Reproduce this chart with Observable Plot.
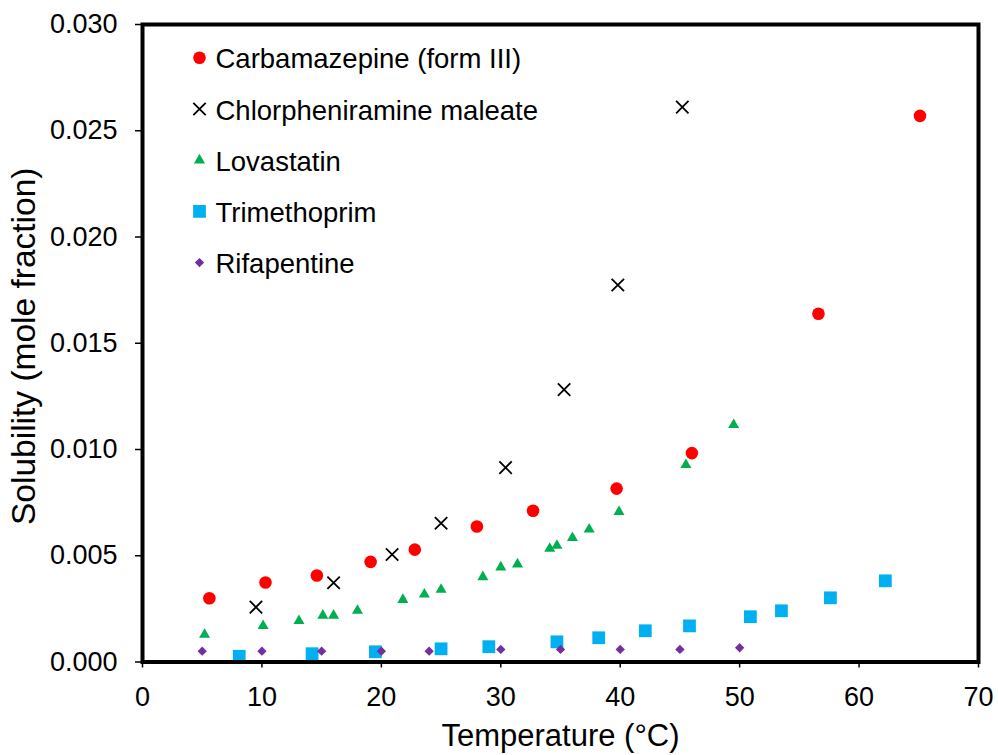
<!DOCTYPE html>
<html><head><meta charset="utf-8">
<script src="https://cdn.jsdelivr.net/npm/d3@7"></script>
<script src="https://cdn.jsdelivr.net/npm/@observablehq/plot@0.6"></script>
<style>body{margin:0;background:#fff} #chart svg{display:block}</style>
</head><body><div id="chart"></div>
<script>
// ---- data ----
const seriesNames = ["Carbamazepine (form III)", "Chlorpheniramine maleate", "Lovastatin", "Trimethoprim", "Rifapentine"];

const carbT = [5.6, 10.3, 14.6, 19.1, 22.8, 28.0, 32.7, 39.7, 46.0, 56.6, 65.1];
const carbS = [0.0030, 0.00374, 0.00407, 0.00471, 0.00529, 0.00638, 0.00712, 0.00816, 0.00983, 0.01639, 0.02570];

const chlorT = [9.5, 16.0, 20.9, 25.0, 30.4, 35.3, 39.8, 45.2];
const chlorS = [0.00258, 0.00373, 0.00506, 0.00653, 0.00915, 0.01282, 0.01774, 0.02611];

const lovaT = [5.2, 10.1, 13.1, 15.1, 16.0, 18.0, 21.8, 23.6, 25.0, 28.5, 30.0, 31.4, 34.1, 34.7, 36.0, 37.4, 39.9, 45.5, 49.5];
const lovaS = [0.00129, 0.00170, 0.00194, 0.00219, 0.00219, 0.00242, 0.00293, 0.00318, 0.00341, 0.00400, 0.00446, 0.00460, 0.00534, 0.00548, 0.00584, 0.00624, 0.00707, 0.00928, 0.01116];

const trimT = [8.1, 14.2, 19.5, 25.0, 29.0, 34.7, 38.2, 42.1, 45.8, 50.9, 53.5, 57.6, 62.2];
const trimS = [0.00027, 0.00039, 0.00048, 0.00062, 0.00072, 0.00095, 0.00114, 0.00147, 0.00170, 0.00213, 0.00241, 0.00302, 0.00382];

const rifaT = [5, 10, 15, 20, 24, 30, 35, 40, 45, 50];
const rifaS = [0.00051, 0.00051, 0.00051, 0.00051, 0.00051, 0.00059, 0.00059, 0.00059, 0.00059, 0.00067];

const xTicks = [0, 10, 20, 30, 40, 50, 60, 70];
const yTicks = [0, 0.005, 0.010, 0.015, 0.020, 0.025, 0.030];

const xTitle = "Temperature (°C)";
const yTitle = "Solubility (mole fraction)";

// ---- build ----
const seriesData = [
  carbT.map((t, i) => ({T: t, S: carbS[i]})),
  chlorT.map((t, i) => ({T: t, S: chlorS[i]})),
  lovaT.map((t, i) => ({T: t, S: lovaS[i]})),
  trimT.map((t, i) => ({T: t, S: trimS[i]})),
  rifaT.map((t, i) => ({T: t, S: rifaS[i]}))
];

const styles = [
  {symbol: "circle", fill: "#FF0000", stroke: "none", r: 6.3},
  {symbol: "times", fill: "none", stroke: "#000000", strokeWidth: 1.8, r: 5.7},
  {symbol: "triangle", fill: "#00B050", stroke: "none", r: 4.1},
  {symbol: "square", fill: "#00B0F0", stroke: "none", r: 7.2},
  {symbol: "diamond2", fill: "#7030A0", stroke: "none", r: 4.2}
];

const font = "'Liberation Sans', Arial, sans-serif";

const dataMarks = seriesData.map((data, i) =>
  Plot.dot(data, {x: "T", y: "S", ...styles[i]})
);

const legendMarks = seriesNames.flatMap((name, i) => [
  Plot.dot([name], {frameAnchor: "top-left", dx: 57, dy: 33.3 + 51.2 * i, ...styles[i]}),
  Plot.text([name], {frameAnchor: "top-left", dx: 73, dy: 33.3 + 51.2 * i + 10.5, text: d => d,
    textAnchor: "start", lineAnchor: "bottom", fontSize: 27.5, fill: "black"})
]);

const chart = Plot.plot({
  width: 998,
  height: 755,
  marginLeft: 142,
  marginRight: 20,
  marginTop: 24,
  marginBottom: 93.5,
  style: {fontFamily: font, fontSize: "27px", color: "black", background: "white"},
  x: {domain: [0, 70]},
  y: {domain: [0, 0.03]},
  marks: [
    ...dataMarks,
    Plot.frame({stroke: "black", strokeWidth: 4}),
    Plot.axisX({ticks: xTicks, tickSize: 6, tickPadding: 19, label: null, fontSize: 27, strokeWidth: 1.5, tickFormat: d => String(d)}),
    Plot.axisY({ticks: yTicks, tickSize: 7, tickPadding: 18, label: null, fontSize: 27, strokeWidth: 1.5, tickFormat: d3.format(".3f")}),
    ...legendMarks,
    Plot.text([xTitle], {frameAnchor: "bottom", dy: 84, lineAnchor: "bottom", textAnchor: "middle", fontSize: 31, fill: "black", text: d => d}),
    Plot.text([yTitle], {frameAnchor: "left", rotate: -90, dx: -108, dy: 3, lineAnchor: "bottom", textAnchor: "middle", fontSize: 33.5, fill: "black", text: d => d})
  ]
});
document.getElementById("chart").appendChild(chart);
</script>
</body></html>
